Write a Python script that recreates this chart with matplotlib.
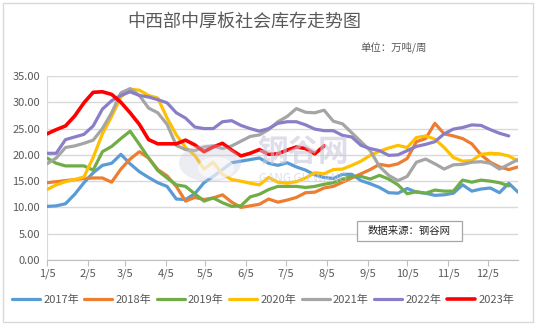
import matplotlib
matplotlib.use('Agg')
import matplotlib.pyplot as plt
from matplotlib.patches import Rectangle, Circle
import numpy as np

plt.rcParams['font.family'] = ['Noto Sans CJK SC', 'DejaVu Sans']

# weekly inventory, 10k tons, one value per week starting Jan 5
s2017 = [10.2, 10.3, 10.7, 12.5, 14.7, 16.6, 18.0, 18.4, 20.1, 18.3,
         16.8, 15.7, 14.7, 14.0, 11.6, 11.5, 12.6, 14.7, 15.9, 17.2,
         18.5, 18.8, 19.1, 19.4, 18.4, 18.0, 18.5, 17.7, 17.1, 16.2,
         15.7, 15.5, 16.3, 16.3, 15.1, 14.5, 13.8, 12.8, 12.7, 13.6,
         12.9, 12.7, 12.3, 12.4, 12.7, 14.3, 13.1, 13.5, 13.7, 12.8,
         14.6, 12.9]
s2018 = [14.7, 14.9, 15.1, 15.3, 15.5, 15.6, 15.6, 14.8, 17.3, 19.2,
         20.6, 19.4, 17.2, 16.0, 14.0, 11.2, 11.9, 11.5, 11.8, 12.4,
         11.0, 10.0, 10.3, 10.6, 11.6, 11.0, 11.4, 11.9, 12.8, 12.9,
         13.7, 14.0, 14.8, 15.6, 16.4, 17.2, 18.2, 17.9, 18.3, 19.3,
         22.5, 23.1, 26.0, 24.0, 23.6, 23.1, 22.1, 20.0, 18.6, 17.7,
         17.2, 17.7]
s2019 = [19.4, 18.4, 17.9, 17.9, 17.9, 17.1, 20.6, 21.6, 23.1, 24.5,
         22.0, 19.4, 17.0, 15.6, 14.3, 14.0, 12.6, 11.2, 11.8, 10.9,
         10.2, 10.3, 12.0, 12.5, 13.4, 14.0, 14.0, 14.0, 13.8, 14.0,
         14.4, 14.7, 15.4, 15.9, 15.9, 15.4, 16.1, 15.4, 14.3, 12.6,
         13.0, 12.7, 13.3, 13.1, 13.1, 15.2, 14.8, 15.2, 15.0, 14.7,
         14.1]
s2020 = [13.4, 14.3, 14.9, 15.3, 15.8, 19.5, 24.0, 27.3, 31.0, 32.5,
         32.3, 31.3, 30.8, 27.0, 23.8, 21.4, 19.9, 17.3, 18.6, 16.3,
         15.3, 15.0, 14.6, 14.3, 15.7, 14.8, 14.6, 14.9, 15.6, 16.6,
         16.4, 17.2, 17.3, 18.0, 18.8, 19.9, 20.7, 21.3, 21.8, 21.4,
         23.3, 23.6, 23.0, 21.4, 19.5, 18.8, 18.9, 20.1, 20.3, 20.2,
         19.8, 18.8]
s2021 = [18.3, 19.4, 21.4, 21.7, 22.2, 22.8, 25.0, 28.0, 31.8, 32.6,
         31.3, 28.9, 28.0, 25.8, 21.8, 21.0, 20.8, 21.5, 21.7, 21.2,
         21.7, 22.6, 23.5, 23.8, 24.8, 26.3, 27.3, 28.8, 28.1, 28.0,
         28.5, 26.4, 25.9, 24.2, 22.5, 20.8, 17.8, 16.1, 15.1, 15.9,
         18.6, 19.2, 18.3, 17.3, 18.1, 18.2, 18.6, 18.7, 18.4, 17.3,
         18.2, 19.1]
s2022 = [20.3, 20.3, 22.9, 23.4, 23.9, 25.5, 28.7, 30.3, 31.3, 32.0,
         31.3, 31.0, 30.5, 29.9, 28.0, 27.0, 25.3, 25.0, 25.0, 26.3,
         26.5, 25.6, 25.0, 24.5, 25.0, 26.0, 26.3, 26.3, 25.7, 24.9,
         24.6, 24.6, 23.7, 23.4, 21.8, 21.2, 20.8, 19.9, 20.0, 20.8,
         21.6, 22.0, 22.5, 24.0, 24.9, 25.2, 25.7, 25.6, 24.8, 24.1,
         23.6]
s2023 = [24.0, 24.8, 25.5, 27.4, 29.9, 31.9, 32.0, 31.5, 30.0, 28.0,
         25.8, 22.9, 22.1, 22.1, 22.1, 22.8, 21.9, 20.6, 21.5, 22.2,
         20.9, 19.8, 20.3, 21.0, 20.1, 20.2, 20.9, 21.5, 21.2, 20.2,
         21.7]

series = [s2017, s2018, s2019, s2020, s2021, s2022, s2023]
names = ['2017年', '2018年', '2019年', '2020年', '2021年', '2022年', '2023年']
colors = ['#5B9BD5', '#ED7D31', '#70AD47', '#FFC000', '#A5A5A5', '#8B7EC8', '#FF0000']

month_labels = ['1/5', '2/5', '3/5', '4/5', '5/5', '6/5',
                '7/5', '8/5', '9/5', '10/5', '11/5', '12/5']

# day offsets from Jan 5 for the month ticks
start = np.datetime64('2023-01-05')
tick_dates = np.array(['2023-%02d-05' % m for m in range(1, 13)], dtype='datetime64[D]')
tick_days = (tick_dates - start).astype(int)

TXT = '#595959'
GRID = '#D9D9D9'

fig = plt.figure(figsize=(5.37, 3.27), dpi=100)
ax = fig.add_axes([47/537, 1-260/327, (518-47)/537, (260-76)/327])

# faint site watermark under the lines
wm = '#C9C9DD'
fig.patches.append(Circle((210/537, 1-163/327), 31/537, transform=fig.transFigure,
                          facecolor=wm, edgecolor='none', alpha=0.35, zorder=0.5))
fig.patches.append(Circle((216/537, 1-168/327), 18/537, transform=fig.transFigure,
                          facecolor='white', edgecolor='none', alpha=0.6, zorder=0.6))
fig.text(303/537, 1-153/327, '钢谷网', fontsize=22, color=wm, alpha=0.6,
         ha='center', va='center', weight='bold', zorder=0.7)
fig.text(303/537, 1-178/327, 'GANG GU WANG', fontsize=8.5, color=wm, alpha=0.6,
         ha='center', va='center', zorder=0.7)
ax.set_facecolor('none')

for vals, name, c in zip(series, names, colors):
    days = np.arange(len(vals)) * 7
    ax.plot(days, vals, color=c, lw=2.3 if name != '2023年' else 2.6,
            label=name, solid_capstyle='round', solid_joinstyle='round', zorder=3)

ax.set_xlim(0, 357)
ax.set_ylim(0, 35)
ax.set_yticks(np.arange(0, 36, 5))
ax.set_yticklabels(['%.2f' % v for v in np.arange(0, 36, 5)])
ax.set_xticks(tick_days)
ax.set_xticklabels(month_labels)
ax.yaxis.grid(True, color=GRID, lw=1)
ax.set_axisbelow(True)

for sp in ['top', 'right']:
    ax.spines[sp].set_visible(False)
ax.spines['left'].set_color(GRID)
ax.spines['bottom'].set_color('#BFBFBF')
ax.tick_params(axis='y', length=0, labelsize=8, labelcolor=TXT, pad=5)
ax.tick_params(axis='x', length=4, color='#BFBFBF', labelsize=8, labelcolor=TXT, pad=2)

fig.text(244/537, 1-22/327, '中西部中厚板社会库存走势图', fontsize=13,
         color=TXT, ha='center', va='center')
fig.text(360/537, 1-47/327, '单位：万吨/周', fontsize=7.5, color=TXT,
         ha='left', va='center')

# source note box
fig.patches.append(Rectangle((357/537, 1-241/327), 105/537, 20/327,
                             transform=fig.transFigure, facecolor='white',
                             edgecolor='#A6A6A6', lw=0.9, zorder=4))
fig.text(409.5/537, 1-231/327, '数据来源：钢谷网', fontsize=7.5, color='#262626',
         ha='center', va='center', zorder=5)

fig.legend(*ax.get_legend_handles_labels(), loc='center',
           bbox_to_anchor=(263/537, 1-300/327), ncol=7, frameon=False,
           fontsize=8, handlelength=2.5, handletextpad=0.3, columnspacing=0.5,
           labelcolor=TXT)

# outer chart frame
fig.patches.append(Rectangle((3/537, 1-322/327), 530/537, 319/327,
                             transform=fig.transFigure, facecolor='none',
                             edgecolor=GRID, lw=1))

fig.savefig('out.png', dpi=100)
